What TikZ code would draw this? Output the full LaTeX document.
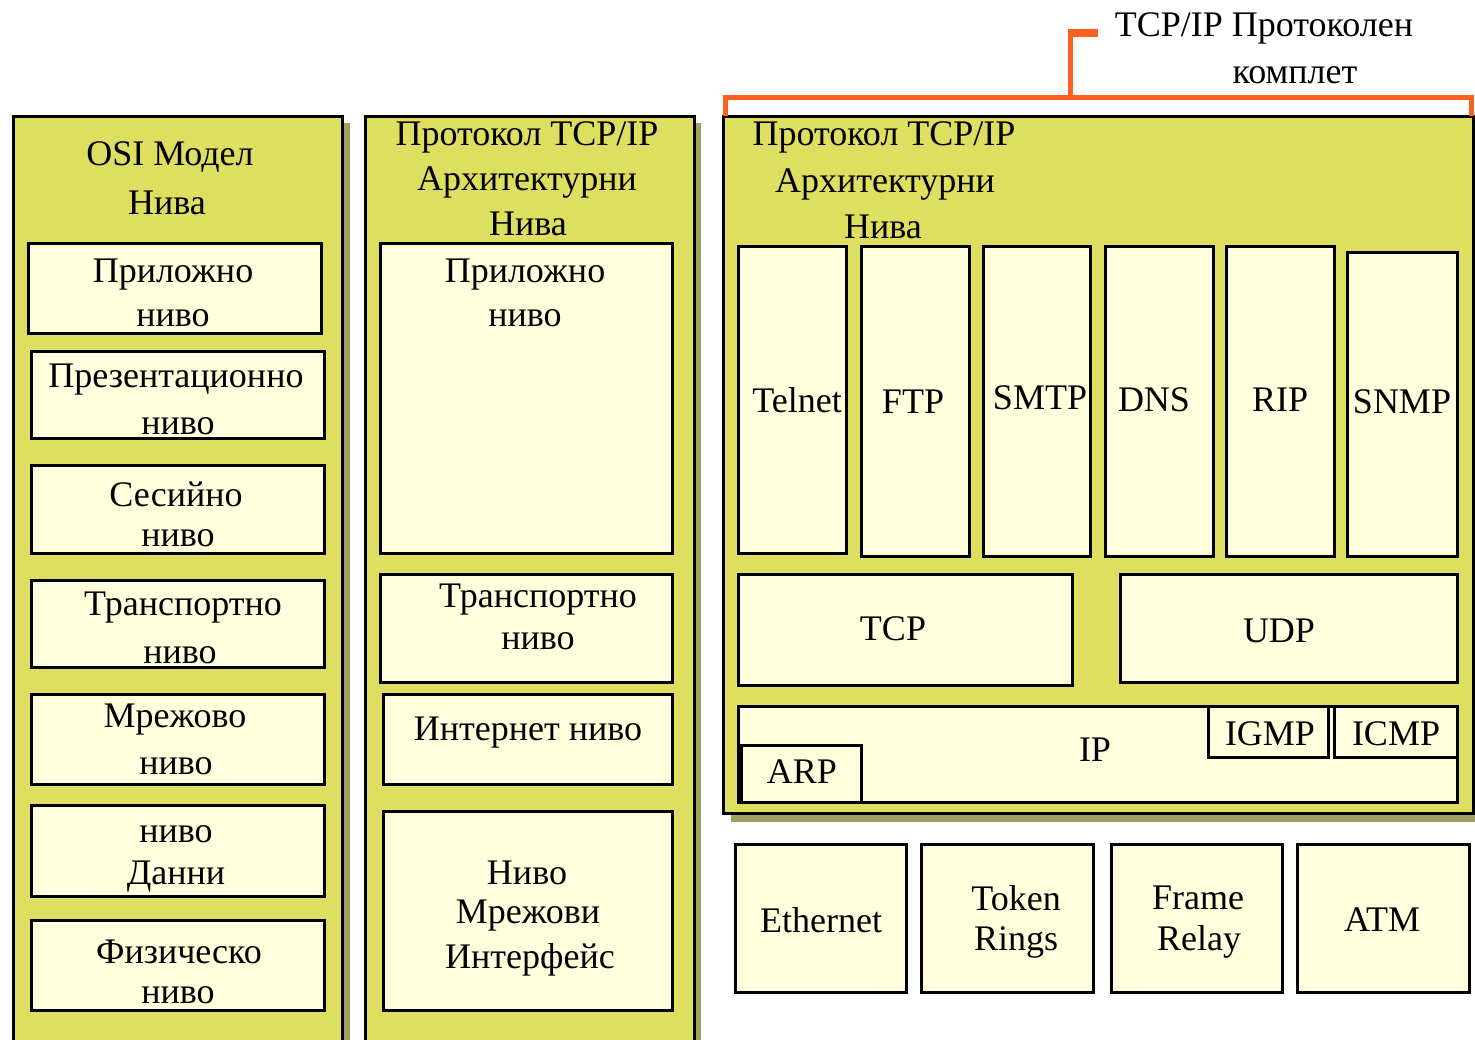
\documentclass[tikz,border=0pt]{standalone}
\usepackage{fontspec}
\setmainfont{Liberation Serif}
\definecolor{panelc}{RGB}{222,222,96}
\definecolor{boxc}{RGB}{255,255,221}
\definecolor{shadowc}{RGB}{160,160,96}
\definecolor{orangec}{RGB}{255,96,32}
\newcommand\rbox[6]{\node[#6, minimum width={(#3)-(#1)}, minimum height={(#4)-(#2)}] (#5) at ({((#1)+(#3))/2},{((#2)+(#4))/2}) {};}
\begin{document}
\begin{tikzpicture}[x=1pt,y=-1pt,
  panel/.style={draw=black, line width=3pt, fill=panelc, inner sep=0, outer sep=0},
  shadowbox/.style={fill=shadowc, draw=none, inner sep=0, outer sep=0},
  box/.style={draw=black, line width=3pt, fill=boxc, inner sep=0, outer sep=0},
  lbl/.style={font=\fontsize{36}{42}\selectfont, inner sep=0},
  bracket/.style={draw=orangec, line width=5pt}]
\useasboundingbox (0,0) rectangle (1475,1039);
\clip (0,0) rectangle (1475,1039);
\fill[white] (0,0) rectangle (1475,1039);
% shadows
\rbox{20}{123}{350}{1070}{s1}{shadowbox}
\rbox{372}{123}{701}{1070}{s2}{shadowbox}
\rbox{731}{124}{1482}{822}{s3}{shadowbox}
% panels
\rbox{13}{116}{342}{1070}{p1}{panel}
\rbox{365}{116}{694}{1070}{p2}{panel}
\rbox{723}{116}{1473}{813}{p3}{panel}
% orange bracket
\coordinate (bl) at (725,116);
\coordinate (br) at (1471,116);
\coordinate (bm) at (1070,97);
\coordinate (bt) at (1070,33);
\coordinate (bf) at (1098,33);
\draw[bracket] (bl) -- (725,97) -- (1471,97) -- (br);
\draw[bracket] (bm) -- (bt);
\draw[orangec, line width=8pt] (1068,33) -- (bf);
\node[lbl] (tsuite1) at (1264,28) {TCP/IP Протоколен};
\node[lbl] (tsuite2) at (1295,75) {комплет};
% panel 1
\node[lbl] (t1a) at (170,157) {OSI Модел};
\node[lbl] (t1b) at (167,203) {Нива};
\rbox{28}{243}{321}{333}{a1}{box}
\node[lbl] at (173,275) {Приложно};
\node[lbl] at (173,318) {ниво};
\rbox{31}{351}{324}{438}{a2}{box}
\node[lbl] at (176,380) {Презентационно};
\node[lbl] at (178,426) {ниво};
\rbox{31}{465}{324}{553}{a3}{box}
\node[lbl] at (176,494) {Сесийно};
\node[lbl] at (178,538) {ниво};
\rbox{31}{580}{324}{667}{a4}{box}
\node[lbl] at (183,608) {Транспортно};
\node[lbl] at (180,655) {ниво};
\rbox{31}{694}{324}{784}{a5}{box}
\node[lbl] at (175,720) {Мрежово};
\node[lbl] at (176,766) {ниво};
\rbox{31}{805}{324}{896}{a6}{box}
\node[lbl] at (176,834) {ниво};
\node[lbl] at (176,877) {Данни};
\rbox{31}{920}{324}{1010}{a7}{box}
\node[lbl] at (179,952) {Физическо};
\node[lbl] at (178,995) {ниво};
% panel 2
\node[lbl] (t2a) at (527,137) {Протокол TCP/IP};
\node[lbl] (t2b) at (527,182) {Архитектурни};
\node[lbl] (t2c) at (528,224) {Нива};
\rbox{380}{243}{672}{553}{b1}{box}
\node[lbl] at (525,275) {Приложно};
\node[lbl] at (525,318) {ниво};
\rbox{380}{574}{672}{682}{b2}{box}
\node[lbl] at (538,600) {Транспортно};
\node[lbl] at (538,641) {ниво};
\rbox{383}{694}{672}{784}{b3}{box}
\node[lbl] at (528,733) {Интернет ниво};
\rbox{383}{811}{672}{1010}{b4}{box}
\node[lbl] at (527,873) {Ниво};
\node[lbl] at (528,916) {Мрежови};
\node[lbl] at (530,960) {Интерфейс};
% panel 3
\node[lbl] (t3a) at (884,137) {Протокол TCP/IP};
\node[lbl] (t3b) at (885,184) {Архитектурни};
\node[lbl] (t3c) at (883,227) {Нива};
\rbox{738}{246}{846}{553}{telnet}{box}
\node[lbl] at (797,400) {Telnet};
\rbox{861}{246}{969}{556}{ftp}{box}
\node[lbl] at (913,402) {FTP};
\rbox{983}{246}{1090}{556}{smtp}{box}
\node[lbl] at (1040,398) {SMTP};
\rbox{1105}{246}{1213}{556}{dns}{box}
\node[lbl] at (1154,400) {DNS};
\rbox{1226}{246}{1334}{556}{rip}{box}
\node[lbl] at (1280,400) {RIP};
\rbox{1347}{252}{1457}{556}{snmp}{box}
\node[lbl] at (1402,402) {SNMP};
\rbox{738}{574}{1072}{685}{tcp}{box}
\node[lbl] at (893,629) {TCP};
\rbox{1120}{574}{1457}{682}{udp}{box}
\node[lbl] at (1279,631) {UDP};
\rbox{738}{706}{1457}{802}{ip}{box}
\node[lbl] at (1095,750) {IP};
\rbox{741}{745}{861}{802}{arp}{box}
\node[lbl] at (802,772) {ARP};
\rbox{1208}{706}{1328}{757}{igmp}{box}
\node[lbl] at (1270,734) {IGMP};
\rbox{1334}{706}{1457}{757}{icmp}{box}
\node[lbl] at (1396,734) {ICMP};
% bottom
\rbox{735}{844}{906}{992}{eth}{box}
\node[lbl] at (821,920) {Ethernet};
\rbox{921}{844}{1093}{992}{tok}{box}
\node[lbl] at (1016,898) {Token};
\node[lbl] at (1016,942) {Rings};
\rbox{1111}{844}{1282}{992}{frm}{box}
\node[lbl] at (1198,898) {Frame};
\node[lbl] at (1199,942) {Relay};
\rbox{1297}{844}{1469}{992}{atm}{box}
\node[lbl] at (1382,920) {ATM};
\end{tikzpicture}
\end{document}
